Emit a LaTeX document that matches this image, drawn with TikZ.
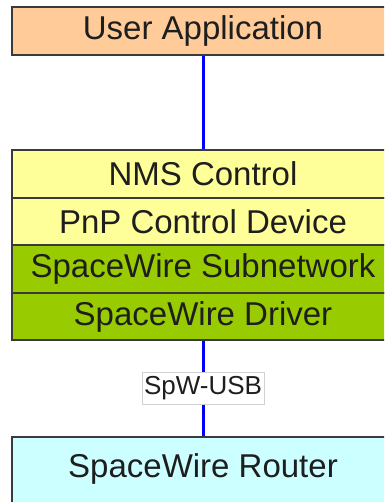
\documentclass[tikz,border=0pt]{standalone}
\usepackage{fontspec}
\setmainfont{Liberation Sans}
\definecolor{appfill}{HTML}{FFCC99}
\definecolor{ctrlfill}{HTML}{FFFF99}
\definecolor{swfill}{HTML}{99CC00}
\definecolor{routerfill}{HTML}{CCFFFF}
\definecolor{edge}{HTML}{3A3A3A}
\definecolor{txt}{HTML}{1E1E1E}
\begin{document}
\begin{tikzpicture}[x=1pt,y=-1pt,
  layer/.style={draw=edge, line width=1.3pt, rectangle, minimum width=382pt,
    inner sep=0pt, text=txt, font=\fontsize{33}{36}\selectfont},
  wire/.style={draw=blue, line width=3pt},
  tag/.style={draw=black!18, fill=white, line width=0.8pt, inner xsep=2pt,
    minimum height=32pt, text=txt, font=\fontsize{26}{28}\selectfont}]
\useasboundingbox (0,0) rectangle (384,502);
\clip (0,0) rectangle (384,502);
\fill[white] (0,0) rectangle (384,502);

% protocol stack; the layers run past the right edge
\node[layer, fill=appfill, minimum height=48pt] (user) at (203,31) {User Application};
\node[layer, fill=ctrlfill, minimum height=48pt] (nms) at (203,174) {NMS Control};
\node[layer, fill=ctrlfill, minimum height=47pt] (pnp) at (203,221.5) {PnP Control Device};
\node[layer, fill=swfill, minimum height=48pt] (subnet) at (203,269) {SpaceWire Subnetwork};
\node[layer, fill=swfill, minimum height=47pt] (driver) at (203,316.5) {SpaceWire Driver};

% router box runs off the lower edge
\node[layer, fill=routerfill, minimum height=80pt] (router) at (203,477) {};
\node[text=txt, font=\fontsize{33}{36}\selectfont, inner sep=0pt] (routertext) at (203,469) {SpaceWire Router};

% links
\draw[wire] (user.south) -- (nms.north);
\draw[wire] (driver.south) -- (router.north) node[midway, tag] (spw) {SpW-USB};
\end{tikzpicture}
\end{document}
